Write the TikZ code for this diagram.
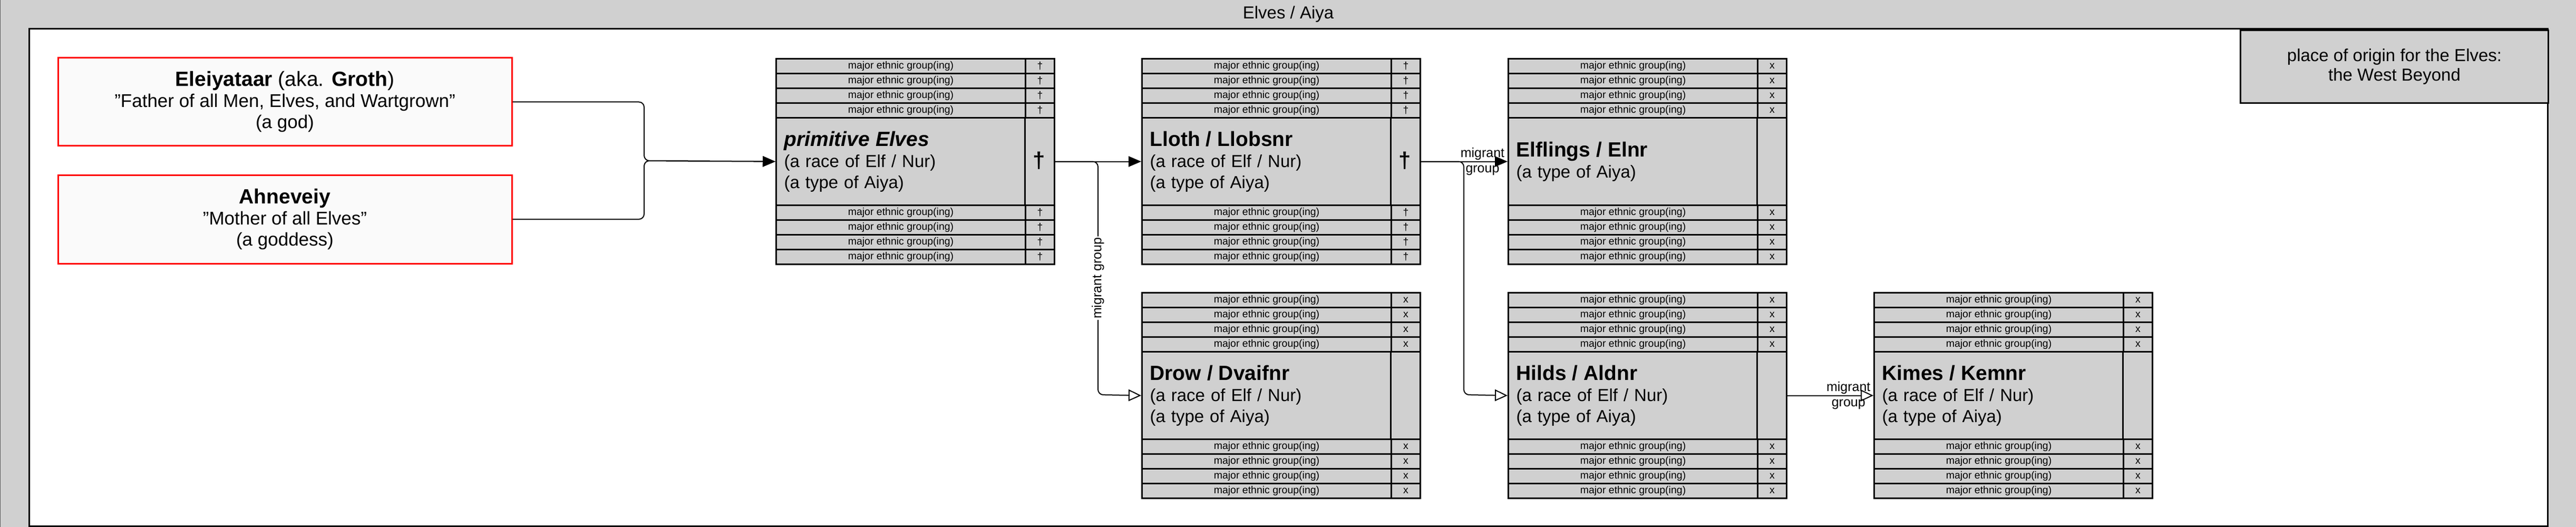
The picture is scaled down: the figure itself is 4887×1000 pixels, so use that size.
\documentclass[tikz,border=0pt]{standalone}
\usepackage{fontspec}
\setmainfont{Liberation Sans}
\usetikzlibrary{arrows.meta}
\definecolor{boxgray}{RGB}{208,208,208}
\definecolor{godfill}{RGB}{250,250,250}
\definecolor{framegray}{RGB}{90,90,90}

\tikzset{
  tabcell/.style={draw=black, fill=boxgray, line width=1.5pt, inner sep=0pt,
    minimum height=14pt, font=\fontsize{9.75}{11}\selectfont},
  rowcell/.style={tabcell, minimum width=236.5pt},
  symcell/.style={tabcell, minimum width=27.5pt},
  maincell/.style={draw=black, fill=boxgray, line width=1.5pt, minimum height=83pt,
    inner xsep=7.5pt, inner ysep=0pt, text width=249pt, align=left,
    font=\fontsize{16.5}{20}\selectfont},
  tabline/.style={draw=black, line width=1.5pt},
  bigsym/.style={inner sep=0pt, font=\fontsize{21}{24}\selectfont\bfseries},
  godbox/.style={draw=red, fill=godfill, line width=1.5pt, minimum width=430.5pt,
    align=center, font=\fontsize{17.5}{20}\selectfont},
  placebox/.style={draw=black, fill=boxgray, line width=1.5pt, minimum width=292pt,
    minimum height=69pt, align=center, font=\fontsize{16.5}{18.5}\selectfont},
  conn/.style={draw=black, line width=1pt, rounded corners=5pt},
  fillarrow/.style={-{Triangle[length=12pt, width=10pt]}},
  openarrow/.style={-{Triangle[open, length=12pt, width=11pt, fill=white]}},
  vlbl/.style={fill=white, inner sep=1pt, rotate=90, font=\fontsize{12.5}{14.5}\selectfont},
  hlbl/.style={inner sep=0pt, align=center, font=\fontsize{12.5}{14.5}\selectfont},
}

\newcommand{\ethtable}[6]{%
  \foreach \i in {0,1,2,3}{%
    \node[rowcell, anchor=north west] (#1-a\i) at (#2, #3+28*\i) {major ethnic group(ing)};
    \node[symcell, anchor=north west] (#1-as\i) at (#2+473, #3+28*\i) {#4};
    \node[rowcell, anchor=north west] (#1-b\i) at (#2, #3+278+28*\i) {major ethnic group(ing)};
    \node[symcell, anchor=north west] (#1-bs\i) at (#2+473, #3+278+28*\i) {#4};
  }
  \node[maincell, anchor=north west] (#1) at (#2, #3+112) {#6};
  \draw[tabline] (#2+473, #3+112) -- (#2+473, #3+278);
  \node[bigsym] (#1-sym) at (#2+500.5, #3+195) {#5};
}

\newcommand{\ttl}[1]{{\fontsize{19.5}{20}\selectfont\bfseries #1}}

\begin{document}
\begin{tikzpicture}[x=0.5pt, y=-0.5pt]
  \useasboundingbox (0,0) rectangle (4887,1000);
  % frame
  \draw[fill=boxgray, draw=framegray, line width=0.5pt] (0,0) rectangle (4887,1000);
  \draw[fill=white, draw=black, line width=1.5pt] (55,55) rectangle (4833,998.5);
  \node[font=\fontsize{16.5}{20}\selectfont] (title) at (2444,27) {Elves / Aiya};

  % place of origin
  \node[placebox, anchor=north west] (origin) at (4249,56) {place of origin for the Elves:\\the West Beyond};

  % gods
  \node[godbox, minimum height=83.5pt] (el) at (540.5,193.5)
    {{\fontsize{19.5}{20}\selectfont\textbf{Eleiyataar} (aka. \textbf{Groth})}\\"Father of all Men, Elves, and Wartgrown"\\(a god)};
  \node[godbox, minimum height=84pt] (ah) at (540.5,416)
    {{\fontsize{19.5}{20}\selectfont\textbf{Ahneveiy}}\\"Mother of all Elves"\\(a goddess)};

  % tables
  \ethtable{prim}{1471}{110}{†}{†}{{\fontsize{19.5}{20}\selectfont\bfseries\itshape primitive Elves}\\(a race of Elf / Nur)\\(a type of Aiya)}
  \ethtable{lloth}{2165}{110}{†}{†}{\ttl{Lloth / Llobsnr}\\(a race of Elf / Nur)\\(a type of Aiya)}
  \ethtable{elf}{2860}{110}{x}{}{\ttl{Elflings / Elnr}\\(a type of Aiya)}
  \ethtable{drow}{2165}{554}{x}{}{\ttl{Drow / Dvaifnr}\\(a race of Elf / Nur)\\(a type of Aiya)}
  \ethtable{hilds}{2860}{554}{x}{}{\ttl{Hilds / Aldnr}\\(a race of Elf / Nur)\\(a type of Aiya)}
  \ethtable{kimes}{3554}{554}{x}{}{\ttl{Kimes / Kemnr}\\(a race of Elf / Nur)\\(a type of Aiya)}

  % connectors
  \coordinate (j1) at (1222,305);
  \coordinate (j2) at (2083,749);
  \coordinate (j3) at (2777,749);
  \draw[conn, fillarrow] (el.east) -| (j1) -- (prim.west);
  \draw[conn, fillarrow] (ah.east) -| (j1) -- (prim.west);
  \draw[conn, fillarrow] (prim.east) -- (lloth.west);
  \draw[conn, openarrow] (prim.east) -| node[vlbl, pos=0.75] {migrant group} (j2) -- (drow.west);
  \draw[conn, openarrow] (lloth.east) -| (j3) -- (hilds.west);
  \draw[conn, fillarrow] (lloth.east) -- node[hlbl, pos=0.71] {migrant\\group} (elf.west);
  \draw[conn, openarrow] (hilds.east) -- node[hlbl, pos=0.71] {migrant\\group} (kimes.west);
\end{tikzpicture}
\end{document}
